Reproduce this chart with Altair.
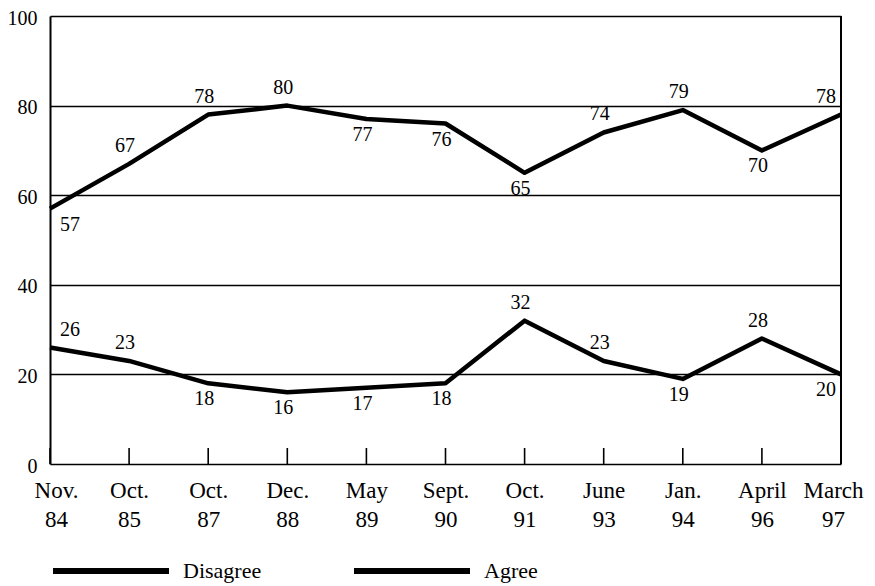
import altair as alt
import pandas as pd

# ---- data ----
dates = ["Nov. 84", "Oct. 85", "Oct. 87", "Dec. 88", "May 89", "Sept. 90",
         "Oct. 91", "June 93", "Jan. 94", "April 96", "March 97"]
disagree = [57, 67, 78, 80, 77, 76, 65, 74, 79, 70, 78]
agree = [26, 23, 18, 16, 17, 18, 32, 23, 19, 28, 20]
series_names = ["Disagree", "Agree"]
# where each value label sits relative to its point
disagree_side = ["below", "above", "above", "above", "below", "below",
                 "below", "above", "above", "below", "above"]
agree_side = ["above", "above", "below", "below", "below", "below",
              "above", "above", "below", "above", "below"]

rows = []
for name, vals, sides in [("Disagree", disagree, disagree_side),
                          ("Agree", agree, agree_side)]:
    for i, (d, v, s) in enumerate(zip(dates, vals, sides)):
        pos = "first" if i == 0 else ("last" if i == len(dates) - 1 else "mid")
        rows.append({"date": d, "series": name, "value": v, "side": s, "pos": pos})
df = pd.DataFrame(rows)
ticks_df = pd.DataFrame({"date": dates})

W, H = 791, 448
FONT = "Liberation Serif"

label_shift = {
    "condition": [
        {"test": f"datum.value == '{dates[0]}'", "value": 6},
        {"test": f"datum.value == '{dates[-1]}'", "value": -8},
    ],
    "value": 0,
}

x_enc = alt.X("date:N", sort=dates,
              scale=alt.Scale(type="point", padding=0),
              axis=alt.Axis(title=None, labelExpr="split(datum.label, ' ')",
                            labelAngle=0, labelAlign="center", labelBaseline="top",
                            labelFontSize=23, labelLineHeight=29,
                            labelFont=FONT, labelColor="black", labelPadding=15,
                            labelOffset=label_shift,
                            ticks=False, domain=False, grid=False,
                            labelOverlap=False, labelFlush=False))
y_enc = alt.Y("value:Q", scale=alt.Scale(domain=[0, 100], nice=False, zero=True),
              axis=alt.Axis(title=None, values=[0, 20, 40, 60, 80, 100],
                            grid=True, gridColor="black", gridWidth=1.4,
                            gridOpacity=1, domain=True, domainColor="black",
                            domainWidth=2, ticks=False,
                            labelPadding=13, labelFontSize=20, labelFont=FONT,
                            labelColor="black", labelOffset=2))

base = alt.Chart(df)

lines = base.mark_line(strokeWidth=4.5, strokeJoin="round").encode(
    x=x_enc, y=y_enc,
    color=alt.Color("series:N", sort=series_names,
                    scale=alt.Scale(domain=series_names, range=["black", "black"]),
                    legend=alt.Legend(title=None, orient="none", legendX=0,
                                      legendY=494, direction="horizontal",
                                      symbolType="stroke", symbolSize=13456,
                                      symbolStrokeWidth=6, labelFontSize=22,
                                      labelFont=FONT, labelColor="black",
                                      labelOffset=11, columnPadding=80,
                                      padding=0, symbolStrokeColor="black")),
    detail="series:N",
)

tick_rules = alt.Chart(ticks_df).mark_rule(color="black", strokeWidth=1.6).encode(
    x=alt.X("date:N", sort=dates), y=alt.value(H - 16), y2=alt.value(H))

right_border = alt.Chart(ticks_df).transform_filter(
    alt.datum.date == dates[-1]
).mark_rule(color="black", strokeWidth=2).encode(
    x=alt.X("date:N", sort=dates), y=alt.value(0), y2=alt.value(H))

def labels(side, pos, dy, dx, align):
    return base.transform_filter(
        (alt.datum.side == side) & (alt.datum.pos == pos)
    ).mark_text(fontSize=20, font=FONT, color="black", dy=dy, dx=dx,
                align=align, baseline="middle").encode(
        x=alt.X("date:N", sort=dates), y="value:Q", text="value:Q")

label_layers = []
for side, dy in [("above", -18), ("below", 16)]:
    label_layers.append(labels(side, "mid", dy, -4, "center"))
    label_layers.append(labels(side, "first", dy, 10, "left"))
    label_layers.append(labels(side, "last", dy, -5, "right"))

chart = alt.layer(tick_rules, right_border, lines, *label_layers).properties(
    width=W, height=H,
    padding={"left": 42, "top": 8, "right": 24, "bottom": 120},
    autosize=alt.AutoSizeParams(type="none"),
).configure_view(stroke="black", strokeWidth=2).configure(background="white")

chart.save("out.html", embed_options={"renderer": "svg", "actions": False})
